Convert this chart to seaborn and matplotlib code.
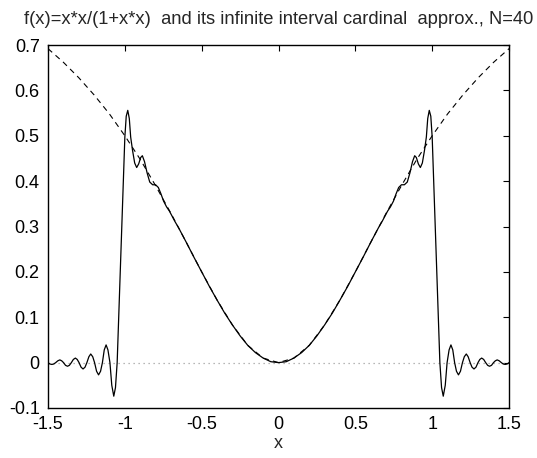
import matplotlib
matplotlib.use("Agg")
import matplotlib.pyplot as plt
import seaborn as sns
import pandas as pd

# ---- data ----
# exact function f(x)=x^2/(1+x^2) (dashed curve), sampled values
exact_x = [-1.5, -1.4, -1.3, -1.2, -1.1, -1.0, -0.9, -0.8, -0.7, -0.6, -0.5,
           -0.4, -0.3, -0.2, -0.1, 0.0, 0.1, 0.2, 0.3, 0.4, 0.5, 0.6, 0.7,
           0.8, 0.9, 1.0, 1.1, 1.2, 1.3, 1.4, 1.5]
exact_y = [0.692, 0.662, 0.628, 0.590, 0.548, 0.500, 0.448, 0.390, 0.329, 0.265, 0.200,
           0.138, 0.083, 0.038, 0.010, 0.000, 0.010, 0.038, 0.083, 0.138, 0.200, 0.265, 0.329,
           0.390, 0.448, 0.500, 0.548, 0.590, 0.628, 0.662, 0.692]

# cardinal (sinc) approximation, N=40 (solid curve)
approx_x = [
    -1.500, -1.488, -1.475, -1.462, -1.450, -1.436, -1.423, -1.411, -1.399, -1.386,
    -1.373, -1.361, -1.348, -1.335, -1.322, -1.310, -1.298, -1.285, -1.272, -1.259,
    -1.247, -1.234, -1.222, -1.209, -1.197, -1.184, -1.171, -1.158, -1.146, -1.134,
    -1.122, -1.110, -1.097, -1.085, -1.072, -1.061, -1.050, -1.032, -1.014, -1.000,
    -0.991, -0.981, -0.971, -0.962, -0.950, -0.936, -0.923, -0.910, -0.897, -0.886,
    -0.872, -0.855, -0.838, -0.819, -0.800, -0.782, -0.765, -0.748, -0.728, -0.710,
    -0.690, -0.674, -0.650, -0.600, -0.550, -0.500, -0.450, -0.400, -0.350, -0.300,
    -0.250, -0.200, -0.150, -0.100, -0.050, 0.000,
    0.050, 0.100, 0.150, 0.200, 0.250, 0.300, 0.350, 0.400, 0.450, 0.500,
    0.550, 0.600, 0.650, 0.674, 0.690, 0.710, 0.728, 0.748, 0.765, 0.782,
    0.800, 0.819, 0.838, 0.855, 0.872, 0.886, 0.897, 0.910, 0.923, 0.936,
    0.950, 0.962, 0.971, 0.981, 0.991, 1.000, 1.014, 1.032, 1.050, 1.061,
    1.072, 1.085, 1.097, 1.110, 1.122, 1.134, 1.146, 1.158, 1.171, 1.184,
    1.197, 1.209, 1.222, 1.234, 1.247, 1.259, 1.272, 1.285, 1.298, 1.310,
    1.322, 1.335, 1.348, 1.361, 1.373, 1.386, 1.399, 1.411, 1.423, 1.436,
    1.450, 1.462, 1.475, 1.488, 1.500]
approx_y = [
    0.000, -0.003, -0.004, -0.003, 0.000, 0.004, 0.006, 0.004, 0.000, -0.006,
    -0.008, -0.006, 0.000, 0.007, 0.010, 0.007, 0.000, -0.010, -0.014, -0.010,
    0.000, 0.013, 0.019, 0.013, 0.000, -0.019, -0.027, -0.019, 0.000, 0.028,
    0.039, 0.028, 0.000, -0.050, -0.074, -0.055, 0.000, 0.180, 0.358, 0.497,
    0.543, 0.556, 0.538, 0.497, 0.468, 0.440, 0.430, 0.438, 0.452, 0.456,
    0.443, 0.418, 0.398, 0.392, 0.392, 0.386, 0.372, 0.356, 0.343, 0.334,
    0.321, 0.311, 0.297, 0.265, 0.232, 0.200, 0.168, 0.138, 0.109, 0.083,
    0.059, 0.038, 0.022, 0.010, 0.002, 0.000,
    0.002, 0.010, 0.022, 0.038, 0.059, 0.083, 0.109, 0.138, 0.168, 0.200,
    0.232, 0.265, 0.297, 0.311, 0.321, 0.334, 0.343, 0.356, 0.372, 0.386,
    0.392, 0.392, 0.398, 0.418, 0.443, 0.456, 0.452, 0.438, 0.430, 0.440,
    0.468, 0.497, 0.538, 0.556, 0.543, 0.497, 0.358, 0.180, 0.000, -0.055,
    -0.074, -0.050, 0.000, 0.028, 0.039, 0.028, 0.000, -0.019, -0.027, -0.019,
    0.000, 0.013, 0.019, 0.013, 0.000, -0.010, -0.014, -0.010, 0.000, 0.007,
    0.010, 0.007, 0.000, -0.006, -0.008, -0.006, 0.000, 0.004, 0.006, 0.004,
    0.000, -0.003, -0.004, -0.003, 0.000]

zero_x = [-1.5, 1.5]
zero_y = [0.0, 0.0]

x_ticks = [-1.5, -1.0, -0.5, 0.0, 0.5, 1.0, 1.5]
x_tick_labels = ["-1.5", "-1", "-0.5", "0", "0.5", "1", "1.5"]
y_ticks = [-0.1, 0.0, 0.1, 0.2, 0.3, 0.4, 0.5, 0.6, 0.7]
y_tick_labels = ["-0.1", "0", "0.1", "0.2", "0.3", "0.4", "0.5", "0.6", "0.7"]

title_text = "f(x)=x*x/(1+x*x)  and its infinite interval cardinal  approx., N=40"
x_label = "x"

# ---- plotting ----
sns.set_style("white")
plt.rcParams["font.family"] = ["Liberation Sans", "DejaVu Sans"]

fig = plt.figure(figsize=(5.37, 4.58), dpi=100)
ax = fig.add_axes([0.0894, 0.1092, 0.8585, 0.7925])

df_zero = pd.DataFrame({"x": zero_x, "y": zero_y})
df_exact = pd.DataFrame({"x": exact_x, "y": exact_y})
df_approx = pd.DataFrame({"x": approx_x, "y": approx_y})

sns.lineplot(data=df_zero, x="x", y="y", ax=ax, color="#a0a0a0",
             linewidth=0.9, linestyle=(0, (1, 3)), estimator=None)
sns.lineplot(data=df_exact, x="x", y="y", ax=ax, color="black",
             linewidth=0.8, linestyle=(0, (5, 4)), estimator=None)
sns.lineplot(data=df_approx, x="x", y="y", ax=ax, color="black",
             linewidth=0.9, estimator=None)

ax.set_xlim(-1.5, 1.5)
ax.set_ylim(-0.1, 0.7)
ax.set_xticks(x_ticks)
ax.set_xticklabels(x_tick_labels)
ax.set_yticks(y_ticks)
ax.set_yticklabels(y_tick_labels)
ax.tick_params(direction="in", length=4, width=0.8, top=True, right=True,
               labelsize=13, colors="black", pad=6)
for s in ax.spines.values():
    s.set_visible(True)
    s.set_color("black")
    s.set_linewidth(1.0)

ax.set_xlabel(x_label, fontsize=13, labelpad=1)
ax.set_ylabel("")
ax.set_title(title_text, fontsize=13.2, pad=15)

fig.savefig("out.png", dpi=100)
